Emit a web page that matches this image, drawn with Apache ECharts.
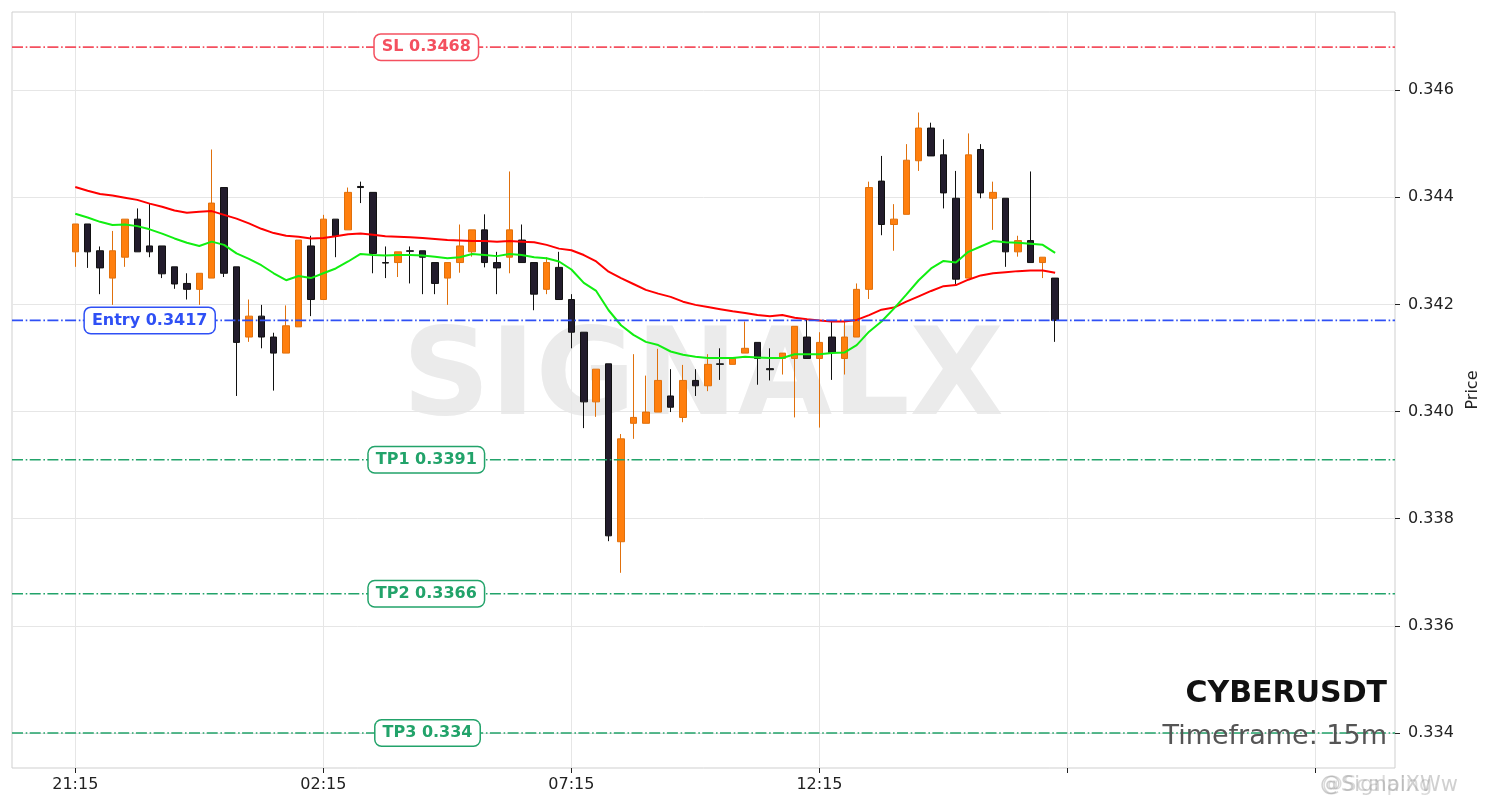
<!DOCTYPE html>
<html><head><meta charset="utf-8">
<script src="https://cdn.jsdelivr.net/npm/echarts@6/dist/echarts.min.js"></script>
<style>html,body{margin:0;padding:0;background:#fff}#c{width:1490px;height:808px}</style>
</head><body><div id="c"></div>
<script>
// ---- data ----
const opens  = [0.34298,0.34350,0.34300,0.34249,0.34288,0.34359,0.34309,0.34309,0.34270,0.34239,
                0.34228,0.34249,0.34418,0.34270,0.34139,0.34178,0.34139,0.34109,0.34158,0.34309,
                0.34209,0.34359,0.34339,0.34420,0.34409,0.34278,0.34278,0.34300,0.34300,0.34278,
                0.34249,0.34278,0.34298,0.34339,0.34278,0.34288,0.34320,0.34278,0.34228,0.34269,
                0.34209,0.34148,0.34018,0.34089,0.33757,0.33978,0.33978,0.33999,0.34029,0.33989,
                0.34058,0.34048,0.34089,0.34088,0.34109,0.34129,0.34080,0.34099,0.34099,0.34139,
                0.34099,0.34139,0.34099,0.34139,0.34228,0.34430,0.34349,0.34368,0.34468,0.34529,
                0.34479,0.34398,0.34249,0.34489,0.34398,0.34398,0.34298,0.34319,0.34278,0.34249];
const highs  = [0.34350,0.34350,0.34308,0.34337,0.34359,0.34379,0.34389,0.34309,0.34270,0.34258,
                0.34258,0.34489,0.34418,0.34270,0.34209,0.34199,0.34147,0.34198,0.34320,0.34328,
                0.34367,0.34359,0.34418,0.34429,0.34409,0.34308,0.34298,0.34308,0.34300,0.34278,
                0.34278,0.34349,0.34339,0.34368,0.34298,0.34448,0.34349,0.34278,0.34288,0.34298,
                0.34219,0.34148,0.34079,0.34089,0.33958,0.34107,0.34067,0.34117,0.34079,0.34087,
                0.34079,0.34107,0.34118,0.34099,0.34168,0.34129,0.34118,0.34109,0.34159,0.34171,
                0.34148,0.34168,0.34168,0.34239,0.34429,0.34477,0.34387,0.34499,0.34558,0.34539,
                0.34508,0.34449,0.34519,0.34499,0.34429,0.34398,0.34328,0.34448,0.34288,0.34249];
const lows   = [0.34270,0.34268,0.34219,0.34199,0.34270,0.34298,0.34288,0.34249,0.34229,0.34209,
                0.34199,0.34249,0.34251,0.34029,0.34130,0.34118,0.34039,0.34109,0.34158,0.34178,
                0.34209,0.34288,0.34339,0.34389,0.34258,0.34249,0.34251,0.34239,0.34219,0.34219,
                0.34199,0.34259,0.34289,0.34269,0.34219,0.34258,0.34278,0.34189,0.34219,0.34209,
                0.34118,0.33969,0.33990,0.33758,0.33699,0.33949,0.33978,0.33999,0.33999,0.33980,
                0.34029,0.34038,0.34059,0.34088,0.34109,0.34050,0.34058,0.34069,0.33989,0.34099,
                0.33970,0.34059,0.34069,0.34139,0.34210,0.34329,0.34300,0.34368,0.34449,0.34477,
                0.34379,0.34238,0.34249,0.34398,0.34339,0.34270,0.34289,0.34278,0.34249,0.34130];
const closes = [0.34350,0.34298,0.34268,0.34300,0.34359,0.34298,0.34298,0.34257,0.34238,0.34228,
                0.34258,0.34389,0.34258,0.34129,0.34178,0.34139,0.34109,0.34160,0.34320,0.34209,
                0.34359,0.34328,0.34409,0.34418,0.34295,0.34277,0.34298,0.34299,0.34288,0.34239,
                0.34278,0.34309,0.34339,0.34278,0.34268,0.34339,0.34278,0.34219,0.34278,0.34209,
                0.34148,0.34018,0.34079,0.33768,0.33949,0.33989,0.33999,0.34058,0.34008,0.34058,
                0.34048,0.34088,0.34088,0.34099,0.34118,0.34099,0.34078,0.34109,0.34159,0.34099,
                0.34129,0.34110,0.34139,0.34228,0.34418,0.34349,0.34359,0.34469,0.34529,0.34477,
                0.34408,0.34247,0.34479,0.34408,0.34409,0.34298,0.34319,0.34278,0.34288,0.34170];
const maFast = [0.34369,0.34362,0.34354,0.34348,0.34349,0.34346,0.34340,0.34332,0.34323,0.34315,
                0.34309,0.34317,0.34311,0.34295,0.34285,0.34273,0.34258,0.34245,0.34253,0.34249,
                0.34258,0.34267,0.34280,0.34294,0.34292,0.34291,0.34292,0.34292,0.34291,0.34289,
                0.34286,0.34288,0.34294,0.34292,0.34290,0.34294,0.34292,0.34288,0.34286,0.34280,
                0.34265,0.34240,0.34225,0.34189,0.34161,0.34143,0.34130,0.34124,0.34112,0.34106,
                0.34102,0.34100,0.34100,0.34100,0.34102,0.34101,0.34100,0.34100,0.34107,0.34107,
                0.34107,0.34109,0.34110,0.34124,0.34149,0.34168,0.34192,0.34218,0.34245,0.34267,
                0.34281,0.34278,0.34298,0.34308,0.34318,0.34316,0.34315,0.34313,0.34311,0.34296];
const maSlow = [0.34419,0.34412,0.34406,0.34403,0.34399,0.34395,0.34388,0.34382,0.34375,0.34371,
                0.34373,0.34374,0.34367,0.34360,0.34351,0.34341,0.34333,0.34328,0.34326,0.34323,
                0.34324,0.34327,0.34331,0.34332,0.34330,0.34327,0.34326,0.34325,0.34324,0.34322,
                0.34320,0.34319,0.34318,0.34318,0.34317,0.34318,0.34317,0.34316,0.34311,0.34304,
                0.34301,0.34292,0.34280,0.34261,0.34249,0.34238,0.34227,0.34220,0.34214,0.34205,
                0.34199,0.34195,0.34191,0.34187,0.34184,0.34180,0.34178,0.34180,0.34175,0.34172,
                0.34170,0.34168,0.34168,0.34171,0.34180,0.34190,0.34194,0.34205,0.34215,0.34225,
                0.34234,0.34236,0.34246,0.34254,0.34258,0.34260,0.34262,0.34263,0.34263,0.34259];
const tickIndex  = [0, 20, 40, 60, 80, 100];
const tickLabels = ['21:15', '02:15', '07:15', '12:15', '', ''];
const yTicks     = [0.334, 0.336, 0.338, 0.340, 0.342, 0.344, 0.346];
const levelNames  = ['SL', 'Entry', 'TP1', 'TP2', 'TP3'];
const levelValues = [0.3468, 0.3417, 0.3391, 0.3366, 0.334];

// ---- styling / layout ----
const FONT = 'DejaVu Sans';
const X_MIN = -5.1, X_MAX = 106.4;
const levelColors = ['#f4505f', '#2f50f5', '#22a36a', '#22a36a', '#22a36a'];
const labelAtIndex = [28.3, 6.0, 28.3, 28.3, 28.4];
const DASH_DOT = [11, 2.7, 1.6, 2.4];

const candleData = opens.map((o, i) => [i, o, closes[i], lows[i], highs[i]]);

const levelSeries = levelValues.map((v, k) => ({
  type: 'line', z: 5, silent: true, symbol: 'none', showSymbol: false,
  data: [[X_MIN, v], [X_MAX, v]],
  lineStyle: {color: levelColors[k], width: 1.6, type: DASH_DOT},
  markPoint: {
    silent: true, symbol: 'rect', symbolSize: [1, 1], z: 6,
    itemStyle: {color: 'rgba(0,0,0,0)'},
    data: [{
      coord: [labelAtIndex[k], v],
      label: {
        show: true, position: 'inside', formatter: levelNames[k] + ' ' + String(v),
        fontFamily: FONT, fontWeight: 'bold', fontSize: 16, color: levelColors[k],
        backgroundColor: '#fff', borderColor: levelColors[k], borderWidth: 1.5,
        borderRadius: 6, padding: [5, 7, 4, 7]
      }
    }]
  }
}));

const chart = echarts.init(document.getElementById('c'), null, {renderer: 'canvas'});
chart.setOption({
  animation: false,
  backgroundColor: '#fff',
  grid: {left: 12, right: 95, top: 12, bottom: 40, show: true, borderColor: '#cfcfcf', borderWidth: 1},
  xAxis: {
    type: 'value', min: X_MIN, max: X_MAX,
    axisLine: {show: false, onZero: false},
    axisTick: {show: true, length: 5, lineStyle: {color: '#222'}, customValues: tickIndex},
    axisLabel: {
      show: true, customValues: tickIndex.slice(0, 4), margin: 9,
      fontFamily: FONT, fontSize: 16, color: '#222',
      formatter: v => tickLabels[tickIndex.indexOf(Math.round(v))] || ''
    },
    splitLine: {show: true, lineStyle: {color: '#e6e6e6', width: 1}}
  },
  yAxis: {
    type: 'value', position: 'right', min: 0.333347, max: 0.347456, scale: true,
    axisLine: {show: false, onZero: false},
    axisTick: {show: true, length: 5, lineStyle: {color: '#222'}, customValues: yTicks},
    axisLabel: {
      show: true, customValues: yTicks, margin: 13,
      fontFamily: FONT, fontSize: 16, color: '#222',
      formatter: v => v.toFixed(3)
    },
    splitLine: {show: true, lineStyle: {color: '#e6e6e6', width: 1}},
    name: 'Price', nameLocation: 'middle', nameRotate: 90, nameGap: 68,
    nameTextStyle: {fontFamily: FONT, fontSize: 16, color: '#222'}
  },
  graphic: [
    {type: 'text', z: -10, x: 703, y: 382, silent: true,
     style: {text: 'SIGNALX', fontFamily: FONT, fontWeight: 'bold', fontSize: 122,
             fill: '#ebebeb', align: 'center', verticalAlign: 'middle'}},
    {type: 'text', z: 100, x: 1387, y: 694,
     style: {text: 'CYBERUSDT', fontFamily: FONT, fontWeight: 'bold', fontSize: 30,
             fill: '#111', align: 'right', verticalAlign: 'middle'}},
    {type: 'text', z: 100, x: 1387, y: 737,
     style: {text: 'Timeframe: 15m', fontFamily: FONT, fontSize: 27,
             fill: '#555', align: 'right', verticalAlign: 'middle'}},
    {type: 'text', z: 100, x: 1320, y: 786,
     style: {text: '@SignalXWw', fontFamily: FONT, fontSize: 21,
             fill: 'rgba(150,150,150,0.45)', align: 'left', verticalAlign: 'middle'}},
    {type: 'text', z: 100, x: 1322, y: 786,
     style: {text: '@Scalping', fontFamily: FONT, fontSize: 21,
             fill: 'rgba(150,150,150,0.35)', align: 'left', verticalAlign: 'middle'}}
  ],
  series: [
    {
      type: 'candlestick', z: 3, barWidth: 7,
      encode: {x: 0, y: [1, 2, 3, 4]},
      data: candleData,
      itemStyle: {color: '#ff7f0e', color0: '#221c2c', borderColor: '#e0700c', borderColor0: '#111111', borderWidth: 1}
    },
    {type: 'line', z: 4, data: maSlow.map((v, i) => [i, v]), showSymbol: false, symbol: 'none',
     lineStyle: {color: '#ff0000', width: 2}},
    {type: 'line', z: 4, data: maFast.map((v, i) => [i, v]), showSymbol: false, symbol: 'none',
     lineStyle: {color: '#11ee11', width: 2}},
    ...levelSeries
  ]
});
</script>
</body></html>
